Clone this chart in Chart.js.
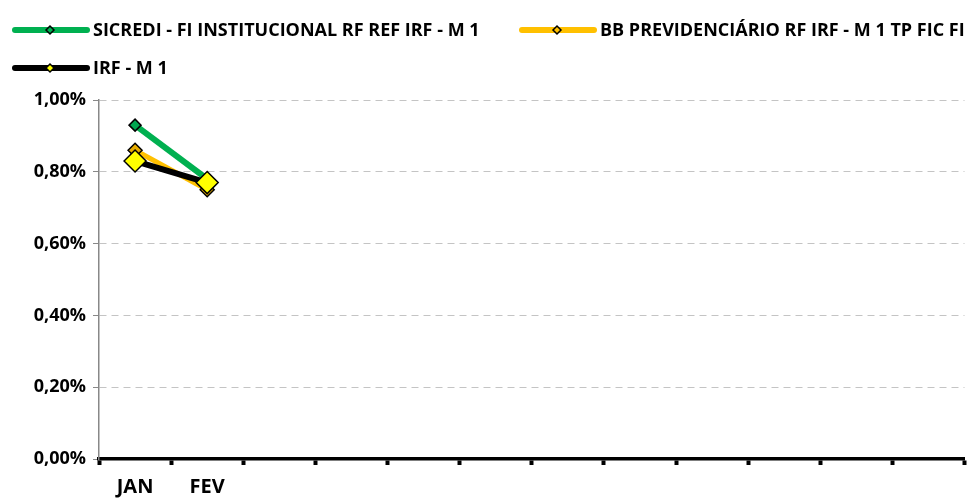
<!DOCTYPE html>
<html>
<head>
<meta charset="utf-8">
<script src="https://cdn.jsdelivr.net/npm/chart.js@4.4.0/dist/chart.umd.min.js"></script>
<style>
  html, body { margin: 0; padding: 0; background: #fff; }
</style>
</head>
<body>
<canvas id="myChart" width="977" height="501"></canvas>
<script>
// categorias (só JAN e FEV têm rótulo)
const meses = ['JAN', 'FEV', '', '', '', '', '', '', '', '', '', ''];
// rentabilidade mensal em %
const sicredi = [0.93, 0.78, null, null, null, null, null, null, null, null, null, null];
const bbPrev = [0.86, 0.75, null, null, null, null, null, null, null, null, null, null];
const irfM1 = [0.83, 0.77, null, null, null, null, null, null, null, null, null, null];
const nomes = ['SICREDI - FI INSTITUCIONAL RF REF IRF - M 1', 'BB PREVIDENCIÁRIO RF IRF - M 1 TP FIC FI', 'IRF - M 1'];
const yMin = 0, yMax = 1.0, yStep = 0.2;

const fonte = "'Open Sans', 'DejaVu Sans', sans-serif";

function amostra(cor, miolo) {
    // linha da legenda com o losango no meio
    var c = document.createElement('canvas');
    c.width = 78; c.height = 14;
    var g = c.getContext('2d');
    g.lineCap = 'round';
    g.lineWidth = 6;
    g.strokeStyle = cor;
    g.beginPath(); g.moveTo(3, 7); g.lineTo(75, 7); g.stroke();
    g.beginPath();
    g.moveTo(34, 7); g.lineTo(38, 3); g.lineTo(42, 7); g.lineTo(38, 11); g.closePath();
    g.fillStyle = miolo; g.fill();
    g.lineWidth = 1.5; g.strokeStyle = '#000'; g.stroke();
    return c;
}

const legendaPlugin = {
    id: 'legendaFixa',
    afterDraw: function (chart) {
        const ctx = chart.ctx;
        const itens = [
            {x: 12, y: 30, img: amostra('#00B050', '#00B050'), txt: nomes[0]},
            {x: 519, y: 30, img: amostra('#FFC000', '#FFC000'), txt: nomes[1]},
            {x: 12, y: 68, img: amostra('#000000', '#FFFF00'), txt: nomes[2]}
        ];
        ctx.save();
        ctx.font = 'bold 18px ' + fonte;
        ctx.fillStyle = '#000';
        ctx.textBaseline = 'middle';
        itens.forEach(function (it) {
            ctx.drawImage(it.img, it.x, it.y - 7);
            ctx.fillText(it.txt, it.x + 81, it.y + 1);
        });
        ctx.restore();
    }
};

const ctx = document.getElementById('myChart');
const myChart = new Chart(ctx, {
    type: 'line',
    data: {
        labels: meses,
        datasets: [{
            label: nomes[0],
            data: sicredi,
            borderColor: '#00B050',
            borderWidth: 6,
            pointStyle: 'rectRot',
            pointRadius: 6,
            pointBackgroundColor: '#00A650',
            pointBorderColor: '#000',
            pointBorderWidth: 1.5,
            order: 3
        }, {
            label: nomes[1],
            data: bbPrev,
            borderColor: '#FFC000',
            borderWidth: 5,
            pointStyle: 'rectRot',
            pointRadius: 7,
            pointBackgroundColor: '#E6AC00',
            pointBorderColor: '#000',
            pointBorderWidth: 1.5,
            order: 2
        }, {
            label: nomes[2],
            data: irfM1,
            borderColor: '#000000',
            borderWidth: 6,
            borderCapStyle: 'round',
            pointStyle: 'rectRot',
            pointRadius: 11,
            pointBackgroundColor: '#FFFF00',
            pointBorderColor: '#000',
            pointBorderWidth: 1.5,
            order: 1
        }]
    },
    options: {
        responsive: false,
        animation: false,
        layout: {
            padding: {top: 100, left: 0, right: 5, bottom: 0}
        },
        scales: {
            x: {
                offset: true,
                afterFit: function (scale) { scale.height = 42; },
                grid: {
                    display: true,
                    offset: true,
                    drawOnChartArea: false,
                    tickLength: 6,
                    tickWidth: 4,
                    tickColor: '#000'
                },
                border: {
                    display: true,
                    color: '#000',
                    width: 3.5
                },
                ticks: {
                    color: '#000',
                    padding: 10,
                    autoSkip: false,
                    maxRotation: 0,
                    font: {family: fonte, size: 20, weight: 'bold'}
                }
            },
            y: {
                min: yMin,
                max: yMax,
                afterFit: function (scale) { scale.width = 99; },
                grid: {
                    color: '#C4C4C4',
                    lineWidth: 1,
                    tickLength: 6,
                    tickColor: '#888888',
                    tickBorderDash: []
                },
                border: {
                    display: true,
                    color: '#888888',
                    width: 1.5,
                    dash: [7, 5]
                },
                ticks: {
                    stepSize: yStep,
                    color: '#000',
                    padding: 7,
                    font: {family: fonte, size: 18, weight: 'bold'},
                    callback: function (v) { return v.toFixed(2).replace('.', ',') + '%'; }
                }
            }
        },
        plugins: {
            legend: {display: false},
            tooltip: {enabled: false}
        }
    },
    plugins: [legendaPlugin]
});
</script>
</body>
</html>
